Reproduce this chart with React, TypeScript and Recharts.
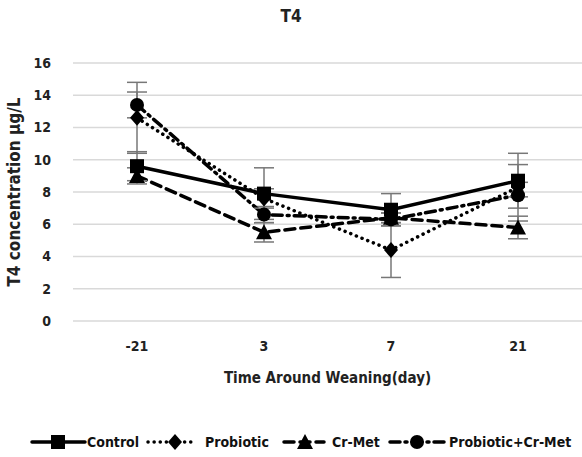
import React from "react";
import { LineChart, Line, XAxis, YAxis, CartesianGrid, ErrorBar } from "recharts";

const days = ["-21", "3", "7", "21"];
const control = [9.6, 7.9, 6.9, 8.7];
const probiotic = [12.6, 7.6, 4.4, 8.3];
const crMet = [9.0, 5.5, 6.4, 5.8];
const probCrMet = [13.4, 6.6, 6.3, 7.8];

const controlErr = [0.9, 1.6, 1.0, 1.0];
const probioticErr = [2.2, 0.6, 1.7, 2.1];
const crMetErr = [0.5, 0.6, 0.3, 0.7];
const probCrMetErr = [0.8, 0.5, 0.4, 0.8];

const yTicks = [0, 2, 4, 6, 8, 10, 12, 14, 16];

const data = days.map((d, i) => ({
  day: d,
  control: control[i],
  probiotic: probiotic[i],
  crMet: crMet[i],
  probCrMet: probCrMet[i],
  controlErr: controlErr[i],
  probioticErr: probioticErr[i],
  crMetErr: crMetErr[i],
  probCrMetErr: probCrMetErr[i],
}));

const FONT = "'DejaVu Sans Condensed', 'Liberation Sans Narrow', sans-serif";

type Shape = "square" | "diamond" | "triangle" | "circle";

function marker(shape: Shape, cx: number, cy: number, key?: string) {
  if (shape === "square") return <rect key={key} x={cx - 7} y={cy - 7} width={14} height={14} fill="#000" />;
  if (shape === "diamond") return <polygon key={key} points={`${cx},${cy - 8} ${cx + 7},${cy} ${cx},${cy + 8} ${cx - 7},${cy}`} fill="#000" />;
  if (shape === "triangle") return <polygon key={key} points={`${cx},${cy - 8} ${cx + 8},${cy + 7} ${cx - 8},${cy + 7}`} fill="#000" />;
  return <circle key={key} cx={cx} cy={cy} r={7} fill="#000" />;
}

const makeDot = (shape: Shape) => (props: any) => {
  const { cx, cy, index } = props;
  if (cx == null || cy == null) return <g key={`d-${index}`} />;
  return marker(shape, cx, cy, `${shape}-${index}`);
};

const series = [
  { key: "probCrMet", name: "Probiotic+Cr-Met", shape: "circle" as Shape, dash: "10 5 2 5", width: 3.5 },
  { key: "crMet", name: "Cr-Met", shape: "triangle" as Shape, dash: "10 6", width: 3.5 },
  { key: "probiotic", name: "Probiotic", shape: "diamond" as Shape, dash: "0.1 6", width: 3.5 },
  { key: "control", name: "Control", shape: "square" as Shape, dash: undefined, width: 3.5 },
];

// legend layout: line start, line end, marker x, text x
const legendItems = [
  { key: "control", x1: 32, x2: 85, mx: 58, tx: 87 },
  { key: "probiotic", x1: 148, x2: 195, mx: 175, tx: 205 },
  { key: "crMet", x1: 284, x2: 324, mx: 305, tx: 332 },
  { key: "probCrMet", x1: 390, x2: 446, mx: 417, tx: 449 },
];

function CustomLegend() {
  return (
    <svg width={582} height={24} style={{ position: "absolute", left: 0, top: 430 }}>
      {legendItems.map((it) => {
        const s = series.find((x) => x.key === it.key)!;
        return (
          <g key={it.key}>
            <line
              x1={it.x1}
              y1={12}
              x2={it.x2}
              y2={12}
              stroke="#000"
              strokeWidth={s.width}
              strokeDasharray={s.dash}
              strokeLinecap="round"
            />
            {marker(s.shape, it.mx, 12)}
            <text x={it.tx} y={17} fontSize={14} fontWeight="bold" fontFamily={FONT} fill="#111">
              {s.name}
            </text>
          </g>
        );
      })}
    </svg>
  );
}

export default function App() {
  return (
    <div style={{ position: "absolute", left: 0, top: 0, width: 582, height: 457, background: "#fff" }}>
      <div
        style={{
          position: "absolute",
          top: 6,
          width: 582,
          textAlign: "center",
          fontFamily: FONT,
          fontWeight: "bold",
          fontSize: 17,
          color: "#222",
        }}
      >
        T4
      </div>
      <LineChart width={582} height={457} data={data} margin={{ top: 63, right: 0, left: 0, bottom: 62 }}>
        <CartesianGrid vertical={false} stroke="#d9d9d9" strokeWidth={1.5} />
        <XAxis
          dataKey="day"
          axisLine={false}
          tickLine={false}
          padding={{ left: 64, right: 64 }}
          height={74}
          tick={{ fontSize: 14, fontWeight: "bold", fontFamily: FONT, fill: "#222" }}
          tickMargin={14}
          label={{
            value: "Time Around Weaning(day)",
            position: "insideBottom",
            offset: 12,
            style: { fontSize: 15, fontWeight: "bold", fontFamily: FONT, fill: "#222" },
          }}
        />
        <YAxis
          domain={[0, 16]}
          ticks={yTicks}
          axisLine={false}
          tickLine={false}
          width={73}
          tick={{ fontSize: 14, fontWeight: "bold", fontFamily: FONT, fill: "#222" }}
          tickMargin={16}
          label={{
            value: "T4 concentration µg/L",
            angle: -90,
            position: "insideLeft",
            offset: 14,
            style: { textAnchor: "middle", fontSize: 17, fontWeight: "bold", fontFamily: FONT, fill: "#222" },
          }}
        />
        {series.map((s) => (
          <Line
            key={s.key}
            dataKey={s.key}
            name={s.name}
            stroke="#000"
            strokeWidth={s.width}
            strokeDasharray={s.dash}
            strokeLinecap="round"
            dot={makeDot(s.shape)}
            activeDot={false}
            isAnimationActive={false}
          >
            <ErrorBar dataKey={`${s.key}Err`} width={10} stroke="#777" strokeWidth={1.5} direction="y" />
          </Line>
        ))}
      </LineChart>
      <CustomLegend />
    </div>
  );
}
